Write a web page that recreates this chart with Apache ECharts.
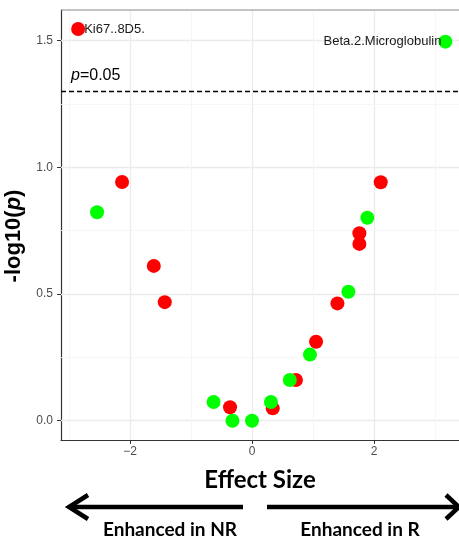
<!DOCTYPE html>
<html>
<head>
<meta charset="utf-8">
<script src="https://cdn.jsdelivr.net/npm/echarts@6/dist/echarts.min.js"></script>
<style>html,body{margin:0;padding:0;background:#fff}#c{width:459px;height:539px}</style>
</head>
<body>
<div id="c"></div>
<script>
// Data
const redX = [-2.85, -2.13, -1.61, -1.43, -0.36, 0.34, 0.72, 1.05, 1.40, 1.76, 1.76, 2.11];
const redY = [1.546, 0.942, 0.611, 0.468, 0.053, 0.049, 0.161, 0.312, 0.463, 0.698, 0.740, 0.941];
const redLabels = ['Ki67..8D5.', '', '', '', '', '', '', '', '', '', '', ''];
const greenX = [3.17, -2.54, -0.63, -0.32, 0.00, 0.31, 0.62, 0.95, 1.58, 1.89];
const greenY = [1.496, 0.823, 0.074, 0.000, 0.000, 0.074, 0.161, 0.261, 0.509, 0.801];
const greenLabels = ['Beta.2.Microglobulin', '', '', '', '', '', '', '', '', ''];
const xTicks = [-2, 0, 2];
const yTicks = [0, 0.5, 1.0, 1.5];
const xMinor = [-3, -1, 1, 3];
const yMinor = [0.25, 0.75, 1.25];
const threshold = 1.301; // -log10(0.05)

const chart = echarts.init(document.getElementById('c'), null, {renderer: 'canvas'});

function pts(xs, ys, labels) {
  return xs.map((x, i) => ({value: [x, ys[i]], name: labels[i]}));
}

const gridLines = []
  .concat(xTicks.map(v => ({xAxis: v, lineStyle: {color: '#ebebeb', width: 1.3, type: 'solid'}})))
  .concat(yTicks.map(v => ({yAxis: v, lineStyle: {color: '#ebebeb', width: 1.3, type: 'solid'}})))
  .concat(xMinor.map(v => ({xAxis: v, lineStyle: {color: '#f4f4f4', width: 0.8, type: 'solid'}})))
  .concat(yMinor.map(v => ({yAxis: v, lineStyle: {color: '#f4f4f4', width: 0.8, type: 'solid'}})));

const option = {
  animation: false,
  backgroundColor: '#fff',
  grid: {left: 61, right: 0, top: 10, bottom: 99, containLabel: false, outerBoundsMode: 'none'},
  xAxis: {
    type: 'value', min: -3.131, max: 3.393,
    name: 'Effect Size', nameLocation: 'middle', nameGap: 28,
    nameTextStyle: {fontFamily: 'Lato', fontWeight: 'bold', fontSize: 24, color: '#000'},
    axisLine: {show: true, onZero: false, lineStyle: {color: '#333', width: 1.2}},
    axisTick: {show: true, length: 4, customValues: xTicks, lineStyle: {color: '#333'}},
    axisLabel: {customValues: xTicks, color: '#4d4d4d', fontSize: 12, margin: 6, fontFamily: 'Liberation Sans',
      formatter: v => (v < 0 ? '\u2212' + Math.abs(v) : String(v))},
    splitLine: {show: false}
  },
  yAxis: {
    type: 'value', min: -0.076, max: 1.621,
    name: '{a|-log10(}{b|p}{a|)}', nameLocation: 'middle', nameGap: 23, nameRotate: 90,
    nameTextStyle: {padding: [0, 22, 0, 0],
      rich: {a: {fontFamily: 'Liberation Sans', fontWeight: 'bold', fontSize: 22, color: '#000'},
             b: {fontFamily: 'Liberation Sans', fontWeight: 'bold', fontStyle: 'italic', fontSize: 22, color: '#000'}}},
    axisLine: {show: true, onZero: false, lineStyle: {color: '#333', width: 1.2}},
    axisTick: {show: true, length: 4, customValues: yTicks, lineStyle: {color: '#333'}},
    axisLabel: {customValues: yTicks, color: '#4d4d4d', fontSize: 12, margin: 8, fontFamily: 'Liberation Sans',
      formatter: v => v.toFixed(1)},
    splitLine: {show: false}
  },
  series: [
    {
      type: 'scatter', z: 2, symbolSize: 14, silent: true,
      itemStyle: {color: '#ff0000', opacity: 1},
      data: pts(redX, redY, redLabels),
      label: {show: true, position: 'right', distance: -1, formatter: p => p.name,
        color: '#1a1a1a', fontSize: 13, fontFamily: 'Liberation Sans'},
      markLine: {
        silent: true, symbol: 'none', z: 1, label: {show: false}, animation: false,
        data: gridLines
      }
    },
    {
      type: 'scatter', z: 3, symbolSize: 14, silent: true,
      itemStyle: {color: '#00ff00', opacity: 1},
      data: pts(greenX, greenY, greenLabels),
      label: {show: true, position: 'left', distance: -3, formatter: p => p.name,
        color: '#1a1a1a', fontSize: 13, fontFamily: 'Liberation Sans'},
      markLine: {
        silent: true, symbol: 'none', z: 1.5, animation: false,
        label: {show: true, position: 'insideStartTop', distance: [10, 8],
          formatter: '{i|p}=0.05',
          rich: {i: {fontStyle: 'italic', fontSize: 16, fontFamily: 'Liberation Sans', color: '#000'}},
          fontSize: 16, fontFamily: 'Liberation Sans', color: '#000'},
        lineStyle: {color: '#000', width: 1.4, type: [5, 3]},
        data: [{yAxis: threshold}]
      }
    }
  ],
  graphic: [
    {type: 'line', shape: {x1: 61, y1: 10, x2: 459, y2: 10}, style: {stroke: '#888', lineWidth: 1.2}, z: 10},
    {type: 'line', shape: {x1: 243, y1: 507, x2: 70, y2: 507}, style: {stroke: '#000', lineWidth: 4.5}},
    {type: 'polyline', shape: {points: [[88, 495], [69, 507], [88, 519]]}, style: {stroke: '#000', lineWidth: 4.5, fill: null}},
    {type: 'line', shape: {x1: 267, y1: 507, x2: 458, y2: 507}, style: {stroke: '#000', lineWidth: 4.5}},
    {type: 'polyline', shape: {points: [[446, 495], [459, 507], [446, 519]]}, style: {stroke: '#000', lineWidth: 4.5, fill: null}},
    {type: 'text', x: 170, y: 530, style: {text: 'Enhanced in NR', fontFamily: 'Lato', fontWeight: 'bold', fontSize: 19, fill: '#000', align: 'center', verticalAlign: 'middle'}},
    {type: 'text', x: 360, y: 530, style: {text: 'Enhanced in R', fontFamily: 'Lato', fontWeight: 'bold', fontSize: 19, fill: '#000', align: 'center', verticalAlign: 'middle'}}
  ]
};
chart.setOption(option);
</script>
</body>
</html>
